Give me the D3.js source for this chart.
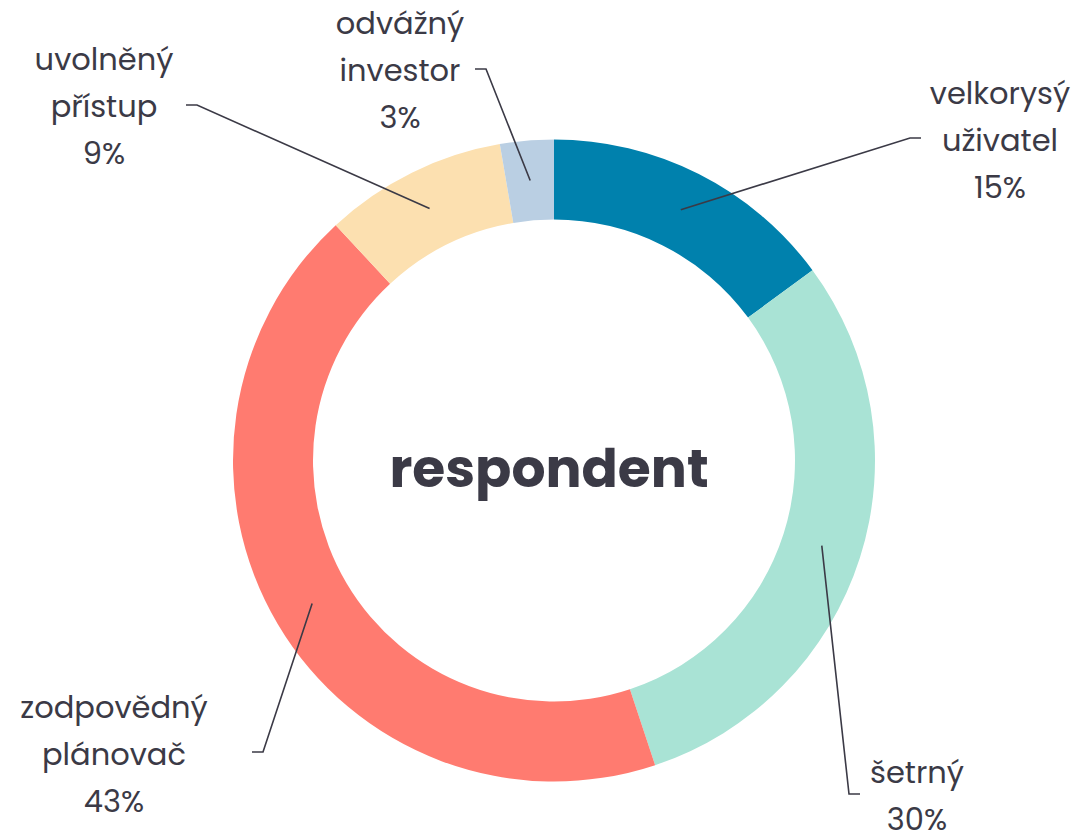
<!DOCTYPE html>
<html>
<head>
<meta charset="utf-8">
<script src="https://cdn.jsdelivr.net/npm/d3@7"></script>
<style>
  html, body { margin: 0; padding: 0; background: #ffffff; }
  svg { display: block; }
</style>
</head>
<body>
<svg id="chart" width="1082" height="836"></svg>
<script>
// ---- data ----
const categories = ["velkorysý uživatel", "šetrný", "zodpovědný plánovač", "uvolněný přístup", "odvážný investor"];
const labelLines = [["velkorysý", "uživatel"], ["šetrný"], ["zodpovědný", "plánovač"], ["uvolněný", "přístup"], ["odvážný", "investor"]];
const values = [14.9, 30.0, 43.2, 9.2, 2.7];
const percentLabels = ["15%", "30%", "43%", "9%", "3%"];
const colors = ["#0081ad", "#a9e3d5", "#ff7b70", "#fce0b0", "#bacfe3"];
const centerTitle = "respondent";

// ---- layout (positions/styles) ----
const W = 1082, H = 836;
const cx = 554, cy = 460.5, outerR = 321, innerR = 241;
const textColor = "#3b3a46";
const fontFamily = "Poppins, Inter, 'Noto Sans', sans-serif";
// elbow point, tick direction, label center x, first baseline y
const labelLayout = [
  { elbow: [910, 138], dir: 1, tx: 1000, ty: 104 },
  { elbow: [849, 794], dir: 1, tx: 917, ty: 783 },
  { elbow: [263, 752], dir: -1, tx: 114, ty: 718 },
  { elbow: [197, 105], dir: -1, tx: 104, ty: 70 },
  { elbow: [486, 69], dir: -1, tx: 400, ty: 34 }
];
const lineGap = 47;
const tickLen = 11;

const svg = d3.select("#chart");
const g = svg.append("g").attr("transform", `translate(${cx},${cy})`);

const pie = d3.pie().sort(null).value(d => d)(values);
const arc = d3.arc().innerRadius(innerR).outerRadius(outerR);
const midArc = d3.arc().innerRadius((innerR + outerR) / 2).outerRadius((innerR + outerR) / 2);

g.selectAll("path.slice")
  .data(pie)
  .join("path")
  .attr("class", "slice")
  .attr("d", arc)
  .attr("fill", (d, i) => colors[i]);

// leader lines and labels
pie.forEach((d, i) => {
  const c = midArc.centroid(d);
  const L = labelLayout[i];
  const p0 = [cx + c[0], cy + c[1]];
  const p1 = L.elbow;
  const p2 = [p1[0] + L.dir * tickLen, p1[1]];
  svg.append("path")
    .attr("d", d3.line()([p0, p1, p2]))
    .attr("fill", "none")
    .attr("stroke", textColor)
    .attr("stroke-width", 1.6);

  const t = svg.append("text")
    .attr("text-anchor", "middle")
    .attr("font-family", fontFamily)
    .attr("font-size", 30.5)
    .attr("fill", textColor);
  const lines = labelLines[i].concat([percentLabels[i]]);
  lines.forEach((ln, j) => {
    t.append("tspan").attr("x", L.tx).attr("y", L.ty + j * lineGap).text(ln);
  });
});

svg.append("text")
  .attr("x", 549)
  .attr("y", 487)
  .attr("text-anchor", "middle")
  .attr("font-family", fontFamily)
  .attr("font-weight", 700)
  .attr("font-size", 53.5)
  .attr("fill", textColor)
  .text(centerTitle);
</script>
</body>
</html>
